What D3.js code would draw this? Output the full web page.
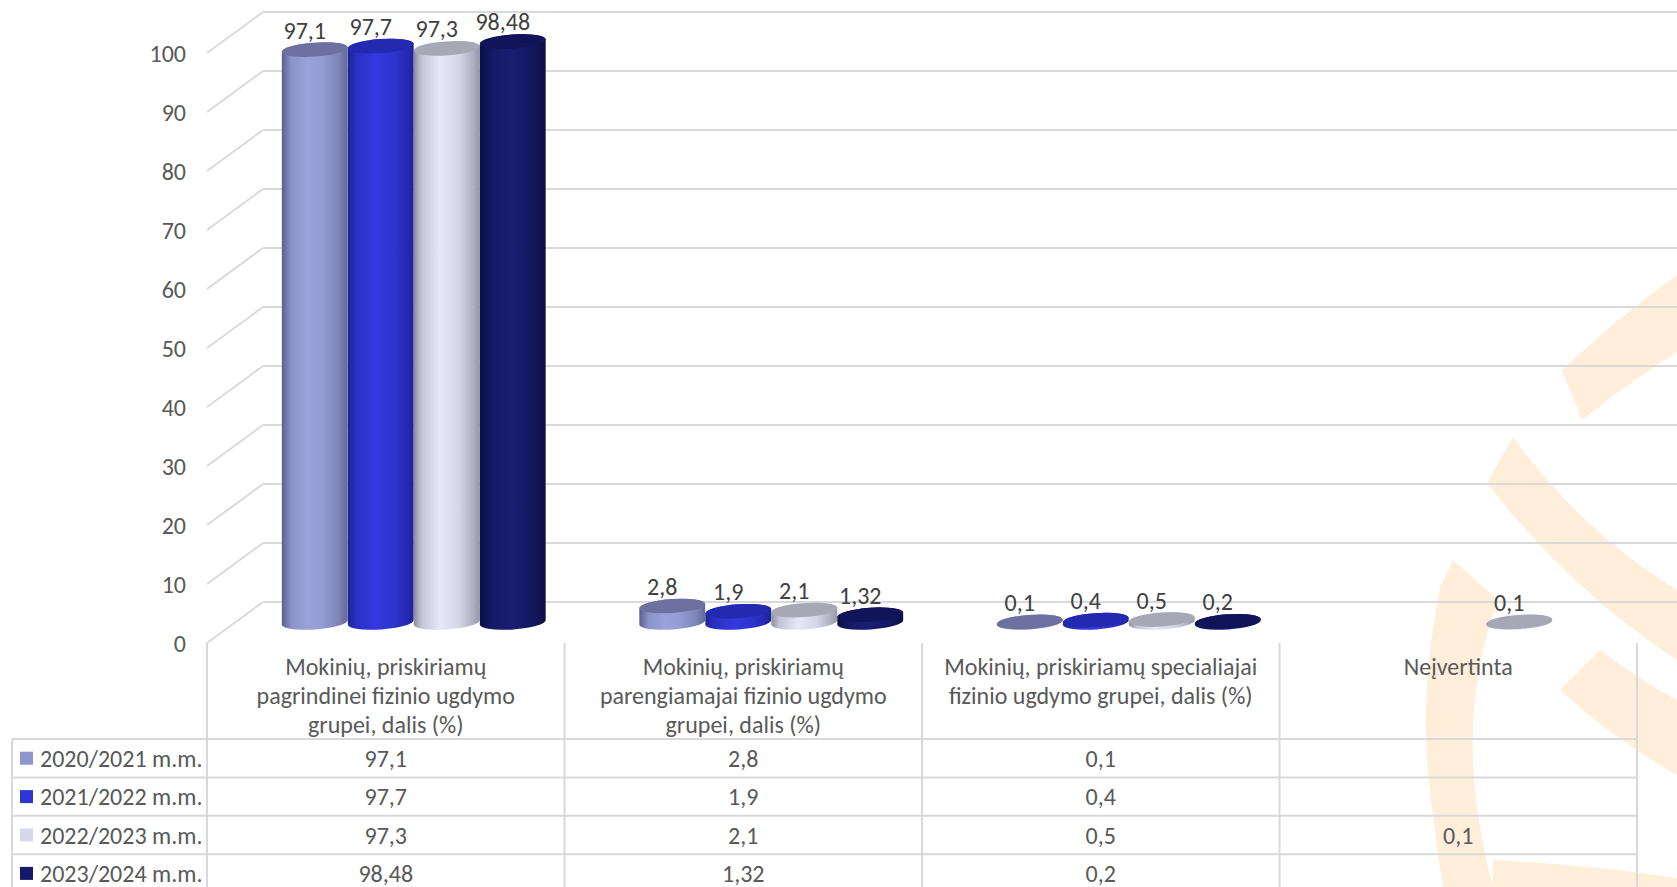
<!DOCTYPE html>
<html>
<head>
<meta charset="utf-8">
<script src="https://cdn.jsdelivr.net/npm/d3@7"></script>
<style>
  html, body { margin: 0; padding: 0; background: #ffffff; }
  svg { display: block; }
  text { font-family: Calibri, Carlito, Lato, "Noto Sans", sans-serif; }
</style>
</head>
<body>
<div id="chart"></div>
<script>
// ---- data ----
const categoryLines = [
  ["Mokinių, priskiriamų", "pagrindinei fizinio ugdymo", "grupei, dalis (%)"],
  ["Mokinių, priskiriamų", "parengiamajai fizinio ugdymo", "grupei, dalis (%)"],
  ["Mokinių, priskiriamų specialiajai", "fizinio ugdymo grupei, dalis (%)"],
  ["Neįvertinta"]
];
const categories = ["pagrindine", "parengiamoji", "specialioji", "neivertinta"];
const seriesNames = ["2020/2021 m.m.", "2021/2022 m.m.", "2022/2023 m.m.", "2023/2024 m.m."];
const values2020 = [97.1, 2.8, 0.1, null];
const values2021 = [97.7, 1.9, 0.4, null];
const values2022 = [97.3, 2.1, 0.5, 0.1];
const values2023 = [98.48, 1.32, 0.2, null];
const seriesValues = [values2020, values2021, values2022, values2023];
const yTicks = [0, 10, 20, 30, 40, 50, 60, 70, 80, 90, 100];

// ---- styles ----
const legendColors = ["#8F96CE", "#2F35D3", "#D6D8EC", "#16196B"];
const topColors = ["#6C71A0", "#2429B2", "#A6A8B6", "#111459"];
const bodyStops = [
  [[0, "#5A5F8C"], [0.14, "#8A92C8"], [0.38, "#99A2D9"], [0.62, "#939CD3"], [0.86, "#7E85B7"], [1, "#62689A"]],
  [[0, "#1F2396"], [0.14, "#2A30C4"], [0.42, "#3439DE"], [0.7, "#2E34CF"], [0.9, "#2529B3"], [1, "#1F2395"]],
  [[0, "#8A8C9E"], [0.12, "#C3C5D6"], [0.4, "#E6E8F7"], [0.68, "#D5D7E7"], [0.9, "#AEB0C1"], [1, "#9597A9"]],
  [[0, "#0B0E44"], [0.2, "#151A68"], [0.5, "#191E72"], [0.85, "#12165A"], [1, "#0B0E45"]]
];
const gridColor = "#D9D9D9";
const textColor = "#595959";
const labelColor = "#404040";
const fontSize = 24;

const W = 1677, H = 887;
const svg = d3.select("#chart").append("svg").attr("width", W).attr("height", H);
const defs = svg.append("defs");

// ---- geometry ----
const plotLeft = 207, plotRight = 1637;
const depth = { dx: 56, dy: -41 };          // front -> back wall offset
const y = d3.scaleLinear().domain([0, 100]).range([643, 53]);   // front plane
const x = d3.scaleBand().domain(categories).range([plotLeft, plotRight]);
const xs = d3.scaleBand().domain(seriesNames).range([-132, 132]);
const mid = { dx: depth.dx / 2, dy: depth.dy / 2 };
const rx = xs.bandwidth() / 2, ry = 7, tilt = -4;

// ---- faint logo in the background ----
const wm = svg.append("g").attr("fill", "#FEEEDA").attr("stroke", "none");
wm.append("path").attr("d", "M1562,370 L1582,420 Q1625,385 1677,352 L1677,275 Q1615,320 1562,370 Z");
wm.append("path").attr("d", "M1513,437 L1487,483 Q1570,590 1677,660 L1677,590 Q1580,530 1513,437 Z");
wm.append("path").attr("d", "M1453,560 L1440,588 Q1418,700 1430,790 Q1436,845 1443,887 L1493,887 Q1480,840 1475,790 Q1465,690 1498,600 Z");
wm.append("path").attr("d", "M1493,860 Q1590,865 1677,878 L1677,887 L1493,887 Z");
wm.append("path").attr("d", "M1560,690 Q1615,740 1677,775 L1677,700 Q1640,680 1600,650 Z");

// ---- walls: gridlines on side and back ----
const grid = svg.append("g").attr("stroke", gridColor).attr("stroke-width", 2).attr("fill", "none");
yTicks.forEach(t => {
  const yf = y(t);
  grid.append("line")
    .attr("x1", plotLeft).attr("y1", yf)
    .attr("x2", plotLeft + depth.dx).attr("y2", yf + depth.dy);
  grid.append("line")
    .attr("x1", plotLeft + depth.dx).attr("y1", yf + depth.dy)
    .attr("x2", W).attr("y2", yf + depth.dy);
});

// ---- y axis labels ----
svg.append("g").selectAll("text").data(yTicks).join("text")
  .attr("x", 186).attr("y", d => y(d))
  .attr("text-anchor", "end").attr("dominant-baseline", "central")
  .attr("font-size", fontSize).attr("fill", textColor)
  .text(d => d);

// ---- cylinder gradients ----
bodyStops.forEach((stops, i) => {
  const g = defs.append("linearGradient").attr("id", "cyl" + i)
    .attr("x1", 0).attr("x2", 1).attr("y1", 0).attr("y2", 0);
  stops.forEach(([o, c]) => g.append("stop").attr("offset", o).attr("stop-color", c));
});

// ---- cylinders ----
const th = tilt * Math.PI / 180, s = Math.sin(th), c = Math.cos(th);
function bodyPath(cx, yTop, yBot) {
  const lx = cx - rx * c, rxp = cx + rx * c;
  return `M${lx},${yTop - rx * s} L${lx},${yBot - rx * s} ` +
    `A${rx},${ry} ${tilt} 0 0 ${rxp},${yBot + rx * s} ` +
    `L${rxp},${yTop + rx * s} A${rx},${ry} ${tilt} 0 0 ${lx},${yTop - rx * s} Z`;
}
const bars = svg.append("g");
const fmt = v => String(v).replace(".", ",");
categories.forEach((cat, ci) => {
  seriesNames.forEach((ser, si) => {
    const v = seriesValues[si][ci];
    if (v == null) return;
    const cx = x(cat) + x.bandwidth() / 2 + mid.dx + xs(ser) + rx;
    const yBot = y(0) + mid.dy;
    const yTop = y(v) + mid.dy;
    bars.append("path").attr("d", bodyPath(cx, yTop, yBot)).attr("fill", `url(#cyl${si})`);
    bars.append("ellipse")
      .attr("cx", cx).attr("cy", yTop).attr("rx", rx).attr("ry", ry)
      .attr("transform", `rotate(${tilt},${cx},${yTop})`)
      .attr("fill", topColors[si]);
    bars.append("text")
      .attr("x", cx - 10).attr("y", yTop - ry - 4)
      .attr("text-anchor", "middle")
      .attr("font-size", fontSize).attr("fill", labelColor)
      .text(fmt(v));
  });
});

// ---- category labels area ----
const tableTop = 739, rowH = 38.4, tableLeft = 12;
const sep = svg.append("g").attr("stroke", gridColor).attr("stroke-width", 2);
const bounds = categories.map(cat => x(cat)).concat([plotRight]);
bounds.forEach(bx => {
  sep.append("line").attr("x1", bx).attr("x2", bx).attr("y1", y(0)).attr("y2", tableTop);
});
categories.forEach((cat, ci) => {
  const t = svg.append("text")
    .attr("text-anchor", "middle").attr("font-size", fontSize).attr("fill", textColor);
  categoryLines[ci].forEach((line, li) => {
    t.append("tspan")
      .attr("x", x(cat) + x.bandwidth() / 2)
      .attr("y", 666 + li * 29)
      .attr("dominant-baseline", "central")
      .text(line);
  });
});

// ---- data table ----
const tbl = svg.append("g").attr("stroke", gridColor).attr("stroke-width", 2);
for (let r = 0; r <= seriesNames.length; r++) {
  tbl.append("line").attr("x1", tableLeft).attr("x2", plotRight)
    .attr("y1", tableTop + r * rowH).attr("y2", tableTop + r * rowH);
}
[tableLeft].concat(bounds).forEach(bx => {
  tbl.append("line").attr("x1", bx).attr("x2", bx)
    .attr("y1", tableTop).attr("y2", tableTop + seriesNames.length * rowH);
});
seriesNames.forEach((ser, si) => {
  const cy = tableTop + si * rowH + rowH / 2;
  svg.append("rect").attr("x", 20).attr("y", cy - 6.5).attr("width", 13).attr("height", 13)
    .attr("fill", legendColors[si]);
  svg.append("text").attr("x", 40).attr("y", cy)
    .attr("dominant-baseline", "central").attr("font-size", fontSize).attr("fill", textColor)
    .text(ser);
  categories.forEach((cat, ci) => {
    const v = seriesValues[si][ci];
    if (v == null) return;
    svg.append("text").attr("x", x(cat) + x.bandwidth() / 2).attr("y", cy)
      .attr("text-anchor", "middle").attr("dominant-baseline", "central")
      .attr("font-size", fontSize).attr("fill", textColor)
      .text(fmt(v));
  });
});
</script>
</body>
</html>
